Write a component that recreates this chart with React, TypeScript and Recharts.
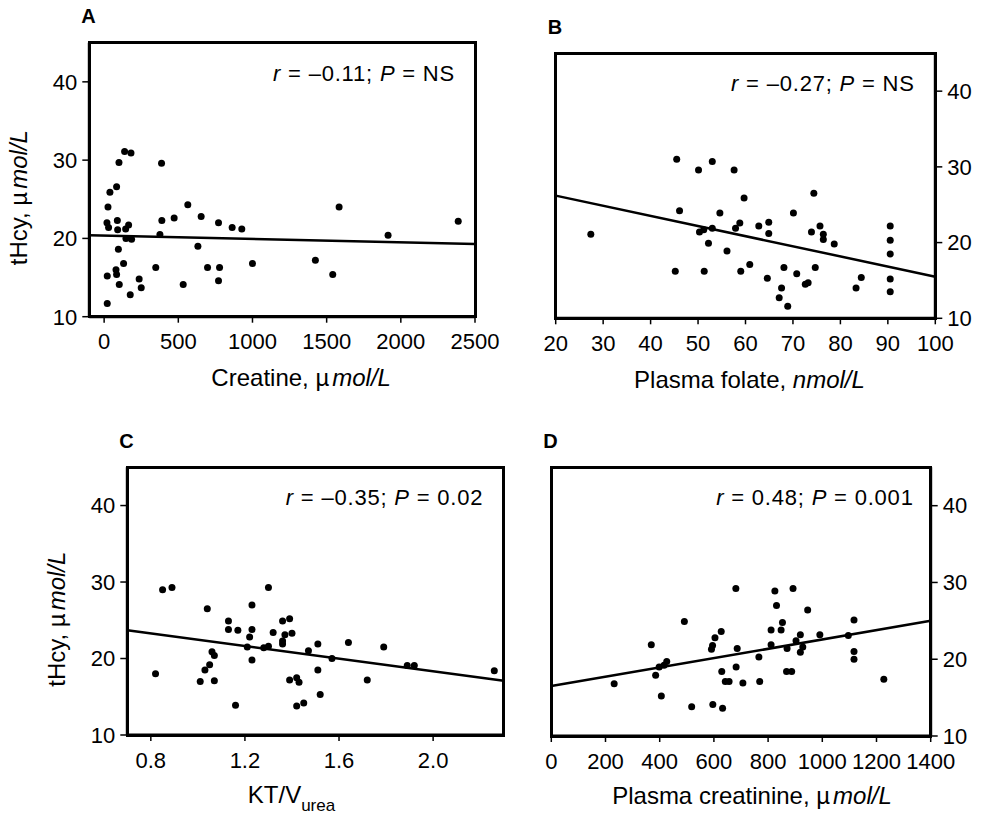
import React from "react";
import { ScatterChart, Scatter, XAxis, YAxis, ReferenceLine } from "recharts";

const FONT = '"Liberation Sans", Arial, Helvetica, sans-serif';

// A: creatine
const creatineX = [21, 21, 26, 19, 30, 39, 84, 100, 138, 181, 89, 91, 96, 80, 84, 102, 131, 145, 165, 147, 185, 176, 236, 250, 348, 387, 389, 376, 472, 533, 564, 632, 654, 697, 771, 778, 771, 863, 928, 1000, 1424, 1541, 1584, 1914, 2387];
const creatineY = [11.7, 15.2, 24.0, 22.0, 21.4, 25.9, 26.6, 29.7, 31.1, 30.9, 22.3, 21.1, 18.6, 16.0, 15.4, 14.1, 16.8, 21.2, 21.7, 20.0, 19.9, 12.8, 14.8, 13.7, 16.3, 29.6, 22.3, 20.5, 22.6, 14.1, 24.3, 19.0, 22.8, 16.3, 22.0, 16.3, 14.6, 21.4, 21.2, 16.8, 17.2, 15.4, 24.0, 20.4, 22.2];
const creatineFitX = [-100, 2500];
const creatineFitY = [20.4, 19.3];
const creatineTicks = [0, 500, 1000, 1500, 2000, 2500];

// B: plasma folate
const folateX = [27.4, 45.5, 46.1, 45.2, 50.1, 53.0, 57.6, 50.3, 51.2, 53.0, 52.2, 51.3, 54.6, 56.1, 57.9, 58.8, 59.7, 59.0, 60.9, 62.8, 64.9, 64.9, 64.6, 67.6, 67.1, 68.9, 68.1, 70.1, 70.8, 72.6, 73.2, 74.4, 73.9, 74.7, 75.7, 76.4, 76.4, 78.7, 83.3, 84.4, 90.5, 90.5, 90.5, 90.5, 90.5];
const folateY = [21.1, 31.0, 24.2, 16.2, 29.6, 30.7, 29.6, 21.4, 21.7, 21.9, 19.9, 16.2, 23.9, 18.9, 21.9, 22.6, 25.9, 16.2, 17.1, 22.2, 22.7, 21.2, 15.3, 14.0, 12.7, 11.6, 16.7, 23.9, 15.9, 14.5, 14.7, 26.5, 21.4, 16.7, 22.2, 21.1, 20.4, 19.8, 14.0, 15.4, 22.2, 20.3, 18.5, 15.2, 13.5];
const folateFitX = [20, 100];
const folateFitY = [26.2, 15.5];
const folateTicks = [20, 30, 40, 50, 60, 70, 80, 90, 100];

// C: KT/V urea
const ktvX = [0.82, 0.85, 0.89, 1.01, 1.03, 1.05, 1.04, 1.06, 1.07, 1.07, 1.13, 1.13, 1.17, 1.16, 1.21, 1.22, 1.23, 1.23, 1.23, 1.28, 1.30, 1.30, 1.32, 1.36, 1.39, 1.36, 1.36, 1.37, 1.40, 1.39, 1.42, 1.43, 1.42, 1.45, 1.47, 1.51, 1.51, 1.52, 1.57, 1.64, 1.72, 1.79, 1.89, 1.92, 2.26];
const ktvY = [18.0, 29.0, 29.3, 17.0, 18.5, 19.2, 26.5, 20.9, 20.4, 17.1, 24.9, 23.8, 23.7, 13.9, 21.5, 22.8, 27.0, 23.8, 19.8, 21.4, 29.3, 21.6, 23.4, 24.9, 25.2, 21.9, 22.3, 23.1, 23.3, 17.2, 17.5, 16.9, 13.8, 14.2, 21.0, 21.9, 18.5, 15.3, 20.0, 22.1, 17.2, 21.5, 19.1, 19.1, 18.4];
const ktvFitX = [0.7, 2.3];
const ktvFitY = [23.7, 17.1];
const ktvTicks = [0.8, 1.2, 1.6, 2.0];

// D: plasma creatinine
const creatinineX = [232, 369, 385, 406, 398, 416, 426, 491, 518, 596, 632, 591, 595, 604, 627, 629, 642, 656, 681, 686, 682, 707, 766, 769, 811, 811, 825, 831, 848, 853, 870, 868, 887, 892, 903, 919, 919, 928, 946, 991, 1096, 1117, 1117, 1117, 1227];
const creatinineY = [16.8, 21.9, 17.9, 15.2, 19.0, 19.2, 19.7, 24.9, 13.8, 14.1, 13.6, 21.3, 21.8, 22.8, 23.6, 18.4, 17.1, 17.1, 29.2, 21.4, 19.0, 16.9, 20.3, 17.1, 23.8, 21.9, 28.9, 27.0, 23.8, 24.8, 21.4, 18.4, 18.4, 29.2, 22.4, 23.2, 20.9, 21.6, 26.4, 23.2, 23.1, 25.1, 21.0, 20.0, 17.4];
const creatinineFitX = [0, 1400];
const creatinineFitY = [16.5, 25.0];
const creatinineTicks = [0, 200, 400, 600, 800, 1000, 1200, 1400];

const tHcyTicks = [10, 20, 30, 40];
const tHcyDomain = [10, 45];

const X_AXIS_H = 60;
const FRAME_W = 3;

type Part = { t: string; i?: boolean; sub?: boolean };

function renderParts(parts: Part[]) {
  return parts.map((p, k) => (
    <tspan key={k} fontStyle={p.i ? "italic" : "normal"} fontSize={p.sub ? 17 : undefined} dy={p.sub ? 8 : undefined} dx={p.t === "mol/L" ? 3 : undefined}>
      {p.t}
    </tspan>
  ));
}

const yTitle: Part[] = [{ t: "tHcy, µ" }, { t: "mol/L", i: true }];
const axisStroke = { stroke: "#000", strokeWidth: FRAME_W };

function Panel(props: any) {
  const { left, top, width, height, margin, yWidth, ySide, xDomain, xTicks, xFmt, xs, ys, fitX, fitY, letter, stat, xTitle, xTitleDx, xTitleDy, yTitleX, statInset } = props;
  const pts = xs.map((x: number, i: number) => ({ x, y: ys[i] }));
  const tickStyle = { fontSize: 22, fill: "#000", fontFamily: FONT };

  // plot rectangle, from the same margins the chart uses
  const plotL = margin.left + (ySide === "left" ? yWidth : 0);
  const plotT = margin.top;
  const plotW = width - margin.left - margin.right - yWidth;
  const plotH = height - margin.top - margin.bottom - X_AXIS_H;

  return (
    <div style={{ position: "absolute", left, top, width, height }}>
      <ScatterChart width={width} height={height} margin={margin}>
        <XAxis
          type="number"
          dataKey="x"
          domain={xDomain}
          ticks={xTicks}
          interval={0}
          tickFormatter={xFmt}
          axisLine={axisStroke}
          tickLine={{ stroke: "#000", strokeWidth: 1.5 }}
          tickSize={6}
          tickMargin={11}
          tick={tickStyle}
          height={X_AXIS_H}
          label={(lp: any) => {
            const vb = lp.viewBox || { x: 0, y: 0, width: 0 };
            return (
              <text x={vb.x + vb.width / 2 + xTitleDx} y={vb.y + xTitleDy} textAnchor="middle" fontSize={24} fontFamily={FONT} fill="#000">
                {renderParts(xTitle)}
              </text>
            );
          }}
        />
        <YAxis
          type="number"
          dataKey="y"
          orientation={ySide}
          domain={tHcyDomain}
          ticks={tHcyTicks}
          interval={0}
          axisLine={axisStroke}
          tickLine={{ stroke: "#000", strokeWidth: 1.5 }}
          tickSize={7}
          tickMargin={5}
          tick={tickStyle}
          width={yWidth}
          label={
            yTitleX != null
              ? (lp: any) => {
                  const vb = lp.viewBox || { x: 0, y: 0, height: 0 };
                  const tx = vb.x + yTitleX;
                  const ty = vb.y + vb.height / 2 + 18;
                  return (
                    <text x={tx} y={ty} transform={`rotate(-90, ${tx}, ${ty})`} textAnchor="middle" fontSize={24} fontFamily={FONT} fill="#000">
                      {renderParts(yTitle)}
                    </text>
                  );
                }
              : undefined
          }
        />
        {/* stat text + panel letter */}
        <ReferenceLine
          y={tHcyDomain[1]}
          stroke="none"
          ifOverflow="visible"
          label={(lp: any) => {
            const vb = lp.viewBox || { x: 0, y: 0, width: 0 };
            return (
              <g fontFamily={FONT} fill="#000">
                <text x={vb.x + vb.width - statInset} y={vb.y + 38} textAnchor="end" fontSize={22} letterSpacing={0.8}>
                  {stat.map((s: Part, k: number) => (
                    <tspan key={k} fontStyle={s.i ? "italic" : "normal"}>{s.t}</tspan>
                  ))}
                </text>
                <text x={vb.x - 8} y={vb.y - 19.5} fontSize={20} fontWeight="bold">
                  {letter}
                </text>
              </g>
            );
          }}
        />
        <ReferenceLine
          segment={[
            { x: fitX[0], y: fitY[0] },
            { x: fitX[1], y: fitY[1] },
          ]}
          stroke="#000"
          strokeWidth={2.5}
          ifOverflow="visible"
        />
        <Scatter
          data={pts}
          isAnimationActive={false}
          shape={(p: any) => <circle cx={p.cx} cy={p.cy} r={3.5} fill="#000" />}
        />
      </ScatterChart>
      {/* plot frame */}
      <div
        style={{
          position: "absolute",
          boxSizing: "border-box",
          left: Math.round(plotL - FRAME_W / 2),
          top: Math.round(plotT - FRAME_W / 2),
          width: Math.round(plotW + FRAME_W),
          height: Math.round(plotH + FRAME_W),
          border: `${FRAME_W}px solid #000`,
          pointerEvents: "none",
          zIndex: 5,
        }}
      />
    </div>
  );
}

export default function App() {
  return (
    <div style={{ position: "absolute", left: 0, top: 0, width: 986, height: 815, background: "#fff", fontFamily: FONT }}>
      <Panel
        left={0}
        top={0}
        width={510}
        height={405}
        margin={{ top: 42.7, right: 35, bottom: 28.3, left: 0 }}
        yWidth={89.3}
        ySide="left"
        xDomain={[-100, 2500]}
        xTicks={creatineTicks}
        xs={creatineX}
        ys={creatineY}
        fitX={creatineFitX}
        fitY={creatineFitY}
        letter="A"
        stat={[{ t: "r", i: true }, { t: " = –0.11; " }, { t: "P", i: true }, { t: " = NS" }]}
        xTitle={[{ t: "Creatine, µ" }, { t: "mol/L", i: true }]}
        xTitleDx={19}
        xTitleDy={69.6}
        yTitleX={27}
        statInset={20}
      />
      <Panel
        left={493}
        top={0}
        width={493}
        height={405}
        margin={{ top: 53.3, right: 0.7, bottom: 26.7, left: 62.7 }}
        yWidth={50}
        ySide="right"
        xDomain={[20, 100]}
        xTicks={folateTicks}
        xs={folateX}
        ys={folateY}
        fitX={folateFitX}
        fitY={folateFitY}
        letter="B"
        stat={[{ t: "r", i: true }, { t: " = –0.27; " }, { t: "P", i: true }, { t: " = NS" }]}
        xTitle={[{ t: "Plasma folate, " }, { t: "nmol/L", i: true }]}
        xTitleDx={4}
        xTitleDy={70}
        statInset={20.6}
      />
      <Panel
        left={0}
        top={405}
        width={510}
        height={410}
        margin={{ top: 62.3, right: 6.3, bottom: 20, left: 0 }}
        yWidth={127.3}
        ySide="left"
        xDomain={[0.7, 2.3]}
        xTicks={ktvTicks}
        xFmt={(v: number) => v.toFixed(1)}
        xs={ktvX}
        ys={ktvY}
        fitX={ktvFitX}
        fitY={ktvFitY}
        letter="C"
        stat={[{ t: "r", i: true }, { t: " = –0.35; " }, { t: "P", i: true }, { t: " = 0.02" }]}
        xTitle={[{ t: "KT/V" }, { t: "urea", sub: true }]}
        xTitleDx={-24}
        xTitleDy={68.3}
        yTitleX={65}
        statInset={20.4}
      />
      <Panel
        left={510}
        top={405}
        width={476}
        height={410}
        margin={{ top: 62.3, right: 5.3, bottom: 19, left: 41.3 }}
        yWidth={50}
        ySide="right"
        xDomain={[0, 1400]}
        xTicks={creatinineTicks}
        xs={creatinineX}
        ys={creatinineY}
        fitX={creatinineFitX}
        fitY={creatinineFitY}
        letter="D"
        stat={[{ t: "r", i: true }, { t: " = 0.48; " }, { t: "P", i: true }, { t: " = 0.001" }]}
        xTitle={[{ t: "Plasma creatinine, µ" }, { t: "mol/L", i: true }]}
        xTitleDx={11}
        xTitleDy={68.3}
        statInset={17}
      />
    </div>
  );
}
